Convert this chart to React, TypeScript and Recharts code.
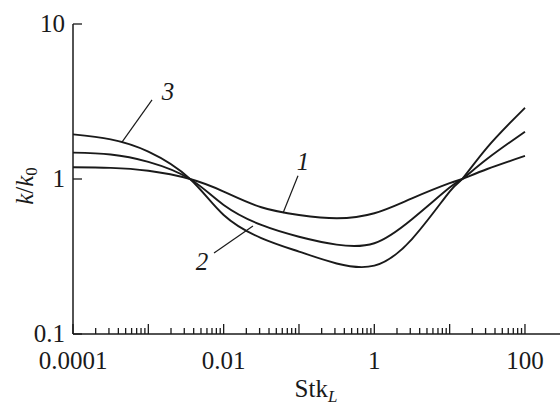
import {
  LineChart,
  Line,
  XAxis,
  YAxis,
  ReferenceLine,
  ReferenceDot,
} from "recharts";

// Stk_L sample points (log-spaced, plus the two common crossing points)
const STK = [1e-4, 3.16e-4, 1e-3, 3.58e-3, 1e-2, 3.16e-2, 0.1, 0.316, 1, 3.16, 10, 14.7, 31.6, 100];

// k/k0 for curves 1, 2, 3
const CURVE_1 = [1.19, 1.18, 1.13, 1.0, 0.83, 0.657, 0.586, 0.558, 0.601, 0.75, 0.94, 1.0, 1.16, 1.41];
const CURVE_2 = [1.48, 1.44, 1.29, 1.0, 0.68, 0.505, 0.424, 0.377, 0.385, 0.55, 0.88, 1.0, 1.35, 2.02];
const CURVE_3 = [1.94, 1.8, 1.5, 1.0, 0.586, 0.416, 0.34, 0.285, 0.276, 0.41, 0.83, 1.0, 1.6, 2.88];

const X_LABEL_VALUES = [1e-4, 1e-2, 1, 100];
const X_LABEL_TEXT = ["0.0001", "0.01", "1", "100"];
const Y_TICKS = [0.1, 1, 10];
const Y_TICK_TEXT = ["0.1", "1", "10"];

// minor + decade ticks from 1e-4 up to 100
const X_TICKS: number[] = [];
for (let e = -4; e < 2; e++) {
  for (let m = 1; m < 10; m++) X_TICKS.push(Number((m * Math.pow(10, e)).toPrecision(3)));
}
X_TICKS.push(100);

const X_MAX = Math.pow(10, 2.465);
const INK = "#1a1a1a";
const TXT = {
  fontFamily: "'Liberation Serif', 'Times New Roman', serif",
  fontSize: 25,
  fill: INK,
};

const data = STK.map((x, i) => ({
  x,
  c1: CURVE_1[i],
  c2: CURVE_2[i],
  c3: CURVE_3[i],
}));

// annotation leader lines and numbers (data coords)
const TAGS = [
  { text: "3", at: { x: 1.82e-3, y: 3.64 }, from: { x: 1.12e-3, y: 3.24 }, to: { x: 4.47e-4, y: 1.73 } },
  { text: "1", at: { x: 0.113, y: 1.29 }, from: { x: 0.097, y: 1.05 }, to: { x: 0.0614, y: 0.604 } },
  { text: "2", at: { x: 5.15e-3, y: 0.291 }, from: { x: 7.45e-3, y: 0.333 }, to: { x: 0.0245, y: 0.497 } },
];

function isDecade(v: number) {
  const l = Math.log10(v);
  return Math.abs(l - Math.round(l)) < 1e-6;
}

function XTick(props: any) {
  const { x, y, payload } = props;
  const v = payload.value as number;
  const major = isDecade(v);
  const idx = X_LABEL_VALUES.findIndex((t) => Math.abs(Math.log10(t) - Math.log10(v)) < 1e-6);
  return (
    <g>
      <line x1={x} x2={x} y1={y} y2={y - (major ? 10 : 6)} stroke={INK} strokeWidth={1.3} />
      {idx >= 0 ? (
        <text x={x} y={y + 35} textAnchor="middle" style={TXT}>
          {X_LABEL_TEXT[idx]}
        </text>
      ) : null}
    </g>
  );
}

function YTick(props: any) {
  const { x, y, payload } = props;
  const idx = Y_TICKS.findIndex((t) => Math.abs(t - payload.value) < 1e-9);
  return (
    <g>
      <line x1={x} x2={x + 9} y1={y} y2={y} stroke={INK} strokeWidth={1.3} />
      <text x={x - 8} y={y + 8} textAnchor="end" style={TXT}>
        {Y_TICK_TEXT[idx]}
      </text>
    </g>
  );
}

function TagText(props: any) {
  const { viewBox, text } = props;
  return (
    <text x={viewBox.x} y={viewBox.y + 8} textAnchor="middle" style={{ ...TXT, fontStyle: "italic" }}>
      {text}
    </text>
  );
}

export default function App() {
  return (
    <div style={{ position: "absolute", left: 0, top: 0, background: "#fff" }}>
      <LineChart width={560} height={405} data={data} margin={{ top: 24, right: 0, bottom: 0, left: 0 }}>
        <XAxis
          dataKey="x"
          type="number"
          scale="log"
          domain={[1e-4, X_MAX]}
          allowDataOverflow
          ticks={X_TICKS}
          interval={0}
          tickSize={0}
          tickMargin={0}
          tick={<XTick />}
          height={71}
          axisLine={{ stroke: INK, strokeWidth: 1.5 }}
          label={{
            content: () => (
              <text x={316} y={397} textAnchor="middle" style={TXT}>
                <tspan>Stk</tspan>
                <tspan dy={5} style={{ fontStyle: "italic", fontSize: 17 }}>
                  L
                </tspan>
              </text>
            ),
          }}
        />
        <YAxis
          type="number"
          scale="log"
          domain={[0.1, 10]}
          allowDataOverflow
          ticks={Y_TICKS}
          interval={0}
          tickSize={0}
          tickMargin={0}
          tick={<YTick />}
          width={73}
          axisLine={{ stroke: INK, strokeWidth: 1.5 }}
          label={{
            content: () => (
              <text x={33} y={186} transform="rotate(-90, 33, 186)" textAnchor="middle" style={TXT}>
                <tspan style={{ fontStyle: "italic" }}>k</tspan>
                <tspan>/</tspan>
                <tspan style={{ fontStyle: "italic" }}>k</tspan>
                <tspan dy={4} style={{ fontSize: 17 }}>
                  0
                </tspan>
              </text>
            ),
          }}
        />
        <Line type="natural" dataKey="c1" stroke={INK} strokeWidth={1.9} dot={false} isAnimationActive={false} />
        <Line type="natural" dataKey="c2" stroke={INK} strokeWidth={1.9} dot={false} isAnimationActive={false} />
        <Line type="natural" dataKey="c3" stroke={INK} strokeWidth={1.9} dot={false} isAnimationActive={false} />
        {TAGS.map((t) => (
          <ReferenceLine
            key={"l" + t.text}
            segment={[t.from, t.to]}
            stroke={INK}
            strokeWidth={1.2}
            ifOverflow="visible"
          />
        ))}
        {TAGS.map((t) => (
          <ReferenceDot
            key={"d" + t.text}
            x={t.at.x}
            y={t.at.y}
            r={0}
            stroke="none"
            fill="none"
            ifOverflow="visible"
            label={<TagText text={t.text} />}
          />
        ))}
      </LineChart>
    </div>
  );
}
